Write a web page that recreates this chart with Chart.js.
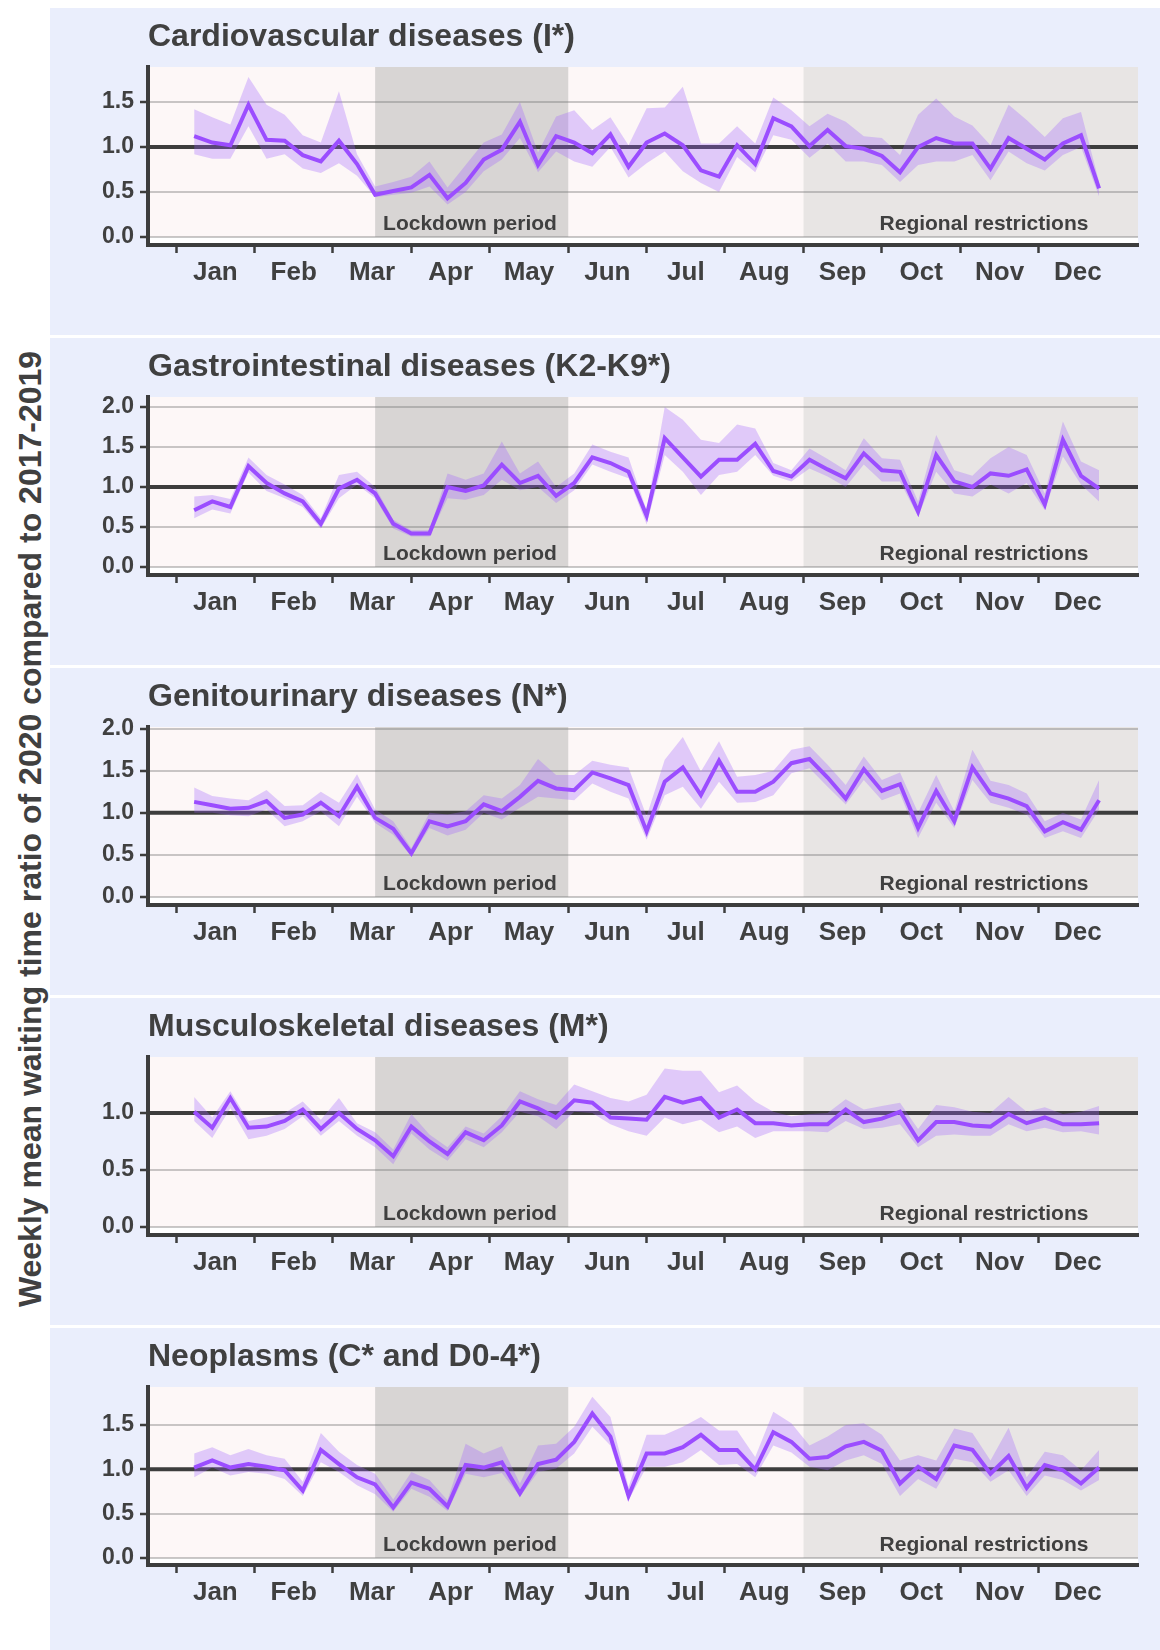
<!DOCTYPE html>
<html>
<head>
<meta charset="utf-8">
<script src="https://cdn.jsdelivr.net/npm/chart.js@4.4.1/dist/chart.umd.min.js"></script>
<style>
html,body{margin:0;padding:0;background:#ffffff;}
#wrap{position:relative;width:1160px;height:1650px;overflow:hidden;background:#ffffff;}
.panel{position:absolute;left:50px;width:1110px;height:327px;background:#EAEEFC;}
.panel canvas{display:block;}
#ytitle{position:absolute;left:30px;top:829px;transform:translate(-50%,-50%) rotate(-90deg);white-space:nowrap;
  font-family:"Liberation Sans",Arial,sans-serif;font-weight:bold;font-size:32px;color:#404040;}
</style>
</head>
<body>
<div id="wrap">
  <div id="ytitle">Weekly mean waiting time ratio of 2020 compared to 2017-2019</div>
</div>
<script>
// ---------- categories / axes ----------
const weeks = [1,2,3,4,5,6,7,8,9,10,11,12,13,14,15,16,17,18,19,20,21,22,23,24,25,26,27,28,29,30,31,32,33,34,35,36,37,38,39,40,41,42,43,44,45,46,47,48,49,50,51];
const monthNames = ["Jan","Feb","Mar","Apr","May","Jun","Jul","Aug","Sep","Oct","Nov","Dec"];
const monthStarts = [0,4.33,8.67,13,17.33,21.67,26,30.33,34.67,39,43.33,47.67];
const monthCenters = [2.17,6.5,10.83,15.17,19.5,23.83,28.17,32.5,36.83,41.17,45.5,49.83];
const xRange = [-1.55, 53.15];
const lockdownSpan = [11, 21.67];
const regionalStart = 34.67;
const lockdownLabelX = 16.24;
const regionalLabelX = 44.64;
const referenceValue = 1.0;

// ---------- panel titles / y ticks ----------
const panelTitles = ["Cardiovascular diseases (I*)","Gastrointestinal diseases (K2-K9*)","Genitourinary diseases (N*)","Musculoskeletal diseases (M*)","Neoplasms (C* and D0-4*)"];
const yTicksCardio = [0,0.5,1,1.5];
const yTicksGastro = [0,0.5,1,1.5,2];
const yTicksGenito = [0,0.5,1,1.5,2];
const yTicksMusculo = [0,0.5,1];
const yTicksNeo = [0,0.5,1,1.5];
const yRangeCardio = [-0.09,1.89];
const yRangeGastro = [-0.10,2.125];
const yRangeGenito = [-0.095,2.02];
const yRangeMusculo = [-0.07,1.49];
const yRangeNeo = [-0.08,1.93];

// ---------- series ----------
const cardioMean = [1.12,1.05,1.02,1.47,1.08,1.07,0.91,0.84,1.07,0.81,0.47,0.51,0.55,0.69,0.43,0.60,0.86,0.97,1.28,0.80,1.12,1.05,0.93,1.14,0.78,1.05,1.15,1.02,0.74,0.67,1.02,0.81,1.32,1.23,1.01,1.19,1.01,0.98,0.90,0.72,1.00,1.10,1.04,1.04,0.76,1.10,0.98,0.86,1.04,1.13,0.54];
const cardioHigh = [1.42,1.33,1.25,1.78,1.47,1.36,1.13,1.05,1.62,0.92,0.56,0.61,0.67,0.84,0.55,0.80,1.05,1.14,1.50,0.94,1.34,1.41,1.19,1.33,1.02,1.43,1.44,1.67,1.04,1.04,1.23,1.04,1.55,1.41,1.23,1.37,1.28,1.12,1.10,0.91,1.36,1.54,1.34,1.24,1.02,1.47,1.30,1.11,1.32,1.39,0.61];
const cardioLow = [0.92,0.87,0.87,1.23,0.87,0.92,0.76,0.71,0.82,0.68,0.44,0.47,0.49,0.56,0.36,0.50,0.73,0.86,1.10,0.72,0.95,0.84,0.78,1.00,0.66,0.82,0.95,0.73,0.60,0.50,0.89,0.72,1.13,1.08,0.88,1.04,0.84,0.84,0.80,0.61,0.80,0.84,0.84,0.91,0.63,0.95,0.82,0.74,0.91,1.00,0.45];

const gastroMean = [0.71,0.82,0.75,1.26,1.05,0.92,0.82,0.54,0.98,1.09,0.92,0.54,0.42,0.42,1.00,0.95,1.02,1.28,1.05,1.14,0.89,1.05,1.37,1.30,1.19,0.64,1.61,1.37,1.13,1.34,1.34,1.54,1.20,1.13,1.34,1.22,1.11,1.42,1.21,1.19,0.69,1.40,1.07,1.00,1.17,1.14,1.22,0.78,1.59,1.14,0.98];
const gastroHigh = [0.88,0.90,0.85,1.37,1.15,1.03,0.90,0.61,1.15,1.19,1.00,0.59,0.46,0.46,1.17,1.09,1.17,1.57,1.17,1.32,1.00,1.17,1.53,1.44,1.37,0.71,2.00,1.84,1.59,1.55,1.78,1.73,1.30,1.21,1.48,1.35,1.21,1.61,1.36,1.34,0.82,1.65,1.21,1.14,1.36,1.50,1.40,0.92,1.82,1.32,1.21];
const gastroLow = [0.61,0.72,0.67,1.18,0.95,0.86,0.75,0.48,0.86,1.03,0.86,0.48,0.38,0.38,0.86,0.84,0.90,1.09,0.96,1.00,0.80,0.96,1.28,1.19,1.11,0.53,1.40,1.19,0.90,1.15,1.19,1.40,1.14,1.07,1.23,1.13,1.00,1.28,1.07,1.07,0.63,1.19,0.92,0.88,1.03,0.92,1.05,0.71,1.38,1.03,0.82];

const genitoMean = [1.13,1.09,1.05,1.06,1.14,0.94,0.98,1.12,0.96,1.31,0.94,0.81,0.52,0.90,0.84,0.90,1.10,1.02,1.19,1.38,1.29,1.27,1.48,1.41,1.33,0.78,1.37,1.54,1.21,1.62,1.25,1.25,1.37,1.59,1.64,1.42,1.17,1.52,1.26,1.34,0.82,1.26,0.90,1.54,1.23,1.17,1.08,0.78,0.89,0.80,1.15];
const genitoHigh = [1.30,1.20,1.17,1.15,1.27,1.08,1.09,1.25,1.12,1.46,1.04,0.90,0.58,1.00,0.98,1.02,1.21,1.17,1.33,1.64,1.45,1.45,1.62,1.57,1.54,0.96,1.63,1.90,1.49,1.85,1.43,1.45,1.50,1.75,1.79,1.57,1.33,1.67,1.39,1.48,1.00,1.45,1.02,1.75,1.38,1.33,1.23,0.90,1.00,0.92,1.39];
const genitoLow = [1.00,1.00,0.97,0.96,1.04,0.84,0.90,1.02,0.84,1.19,0.88,0.74,0.48,0.82,0.73,0.80,1.00,0.92,1.06,1.19,1.17,1.15,1.35,1.25,1.17,0.68,1.21,1.31,1.05,1.37,1.12,1.13,1.21,1.47,1.53,1.31,1.10,1.39,1.15,1.23,0.70,1.12,0.82,1.39,1.12,1.06,0.98,0.70,0.78,0.70,1.04];

const musculoMean = [1.01,0.87,1.13,0.87,0.88,0.93,1.03,0.86,1.00,0.86,0.76,0.62,0.88,0.75,0.64,0.83,0.76,0.89,1.10,1.04,0.96,1.11,1.09,0.96,0.95,0.94,1.14,1.09,1.13,0.96,1.03,0.91,0.91,0.89,0.90,0.90,1.03,0.92,0.95,1.01,0.76,0.92,0.92,0.89,0.88,0.99,0.91,0.96,0.90,0.90,0.91];
const musculoHigh = [1.14,0.96,1.19,0.93,0.96,1.00,1.10,0.94,1.13,0.91,0.83,0.68,0.99,0.81,0.70,0.88,0.82,0.97,1.19,1.12,1.07,1.25,1.19,1.13,1.10,1.16,1.39,1.37,1.37,1.18,1.24,1.10,1.01,0.97,0.99,1.00,1.12,1.03,1.06,1.09,0.86,1.07,1.05,1.01,1.00,1.14,1.01,1.05,0.99,1.01,1.06];
const musculoLow = [0.93,0.78,1.04,0.77,0.80,0.86,0.97,0.80,0.93,0.80,0.70,0.55,0.82,0.68,0.58,0.77,0.70,0.83,1.01,0.97,0.86,1.01,1.00,0.90,0.84,0.80,0.96,0.90,0.94,0.83,0.88,0.78,0.84,0.84,0.84,0.83,0.93,0.86,0.87,0.90,0.70,0.80,0.81,0.80,0.80,0.90,0.84,0.87,0.83,0.84,0.81];

const neoMean = [1.02,1.10,1.02,1.06,1.03,0.99,0.76,1.22,1.06,0.91,0.83,0.57,0.85,0.78,0.58,1.05,1.02,1.08,0.73,1.06,1.11,1.31,1.63,1.37,0.70,1.18,1.18,1.25,1.39,1.22,1.22,1.00,1.42,1.31,1.12,1.14,1.26,1.31,1.21,0.84,1.03,0.89,1.27,1.22,0.95,1.15,0.79,1.05,0.99,0.84,1.02];
const neoHigh = [1.18,1.25,1.16,1.23,1.16,1.12,0.86,1.41,1.20,1.05,0.95,0.66,0.97,0.88,0.65,1.29,1.18,1.26,0.84,1.27,1.29,1.48,1.82,1.59,0.80,1.39,1.39,1.48,1.59,1.44,1.44,1.14,1.65,1.52,1.27,1.37,1.50,1.52,1.39,1.10,1.16,1.10,1.46,1.41,1.10,1.47,0.91,1.20,1.16,0.99,1.22];
const neoLow = [0.91,1.02,0.93,0.97,0.95,0.89,0.70,1.08,0.97,0.82,0.72,0.52,0.78,0.69,0.53,0.95,0.91,0.96,0.69,0.97,1.01,1.18,1.48,1.27,0.65,1.03,1.03,1.08,1.22,1.05,1.06,0.91,1.27,1.19,1.03,0.99,1.10,1.16,1.06,0.70,0.89,0.78,1.12,1.08,0.86,0.99,0.70,0.93,0.88,0.76,0.88];

// ---------- styling ----------
const FONT = '"Liberation Sans", Arial, Helvetica, sans-serif';
const TEXT = '#404040';
const COL = {
  pink:'#FDF7F7', lock:'#D8D5D4', reg:'#E8E5E4',
  line:'#9B4DFF', band:'rgba(160,95,255,0.30)', ref:'#3D3D3D',
  grid:'rgba(120,120,120,0.40)', axis:'#3D3D3D'
};

const panels = [
  {title:panelTitles[0], mean:cardioMean, low:cardioLow, high:cardioHigh, ticks:yTicksCardio, range:yRangeCardio},
  {title:panelTitles[1], mean:gastroMean, low:gastroLow, high:gastroHigh, ticks:yTicksGastro, range:yRangeGastro},
  {title:panelTitles[2], mean:genitoMean, low:genitoLow, high:genitoHigh, ticks:yTicksGenito, range:yRangeGenito},
  {title:panelTitles[3], mean:musculoMean, low:musculoLow, high:musculoHigh, ticks:yTicksMusculo, range:yRangeMusculo},
  {title:panelTitles[4], mean:neoMean, low:neoLow, high:neoHigh, ticks:yTicksNeo, range:yRangeNeo}
];

const decor = {
  id:'decor',
  beforeDraw(chart){
    const {ctx, chartArea:a, scales:{x,y}} = chart;
    ctx.save();
    ctx.fillStyle = '#FFFFFF';
    ctx.fillRect(a.left, a.top, a.right-a.left, a.bottom-a.top);
    const y0 = y.getPixelForValue(0);
    ctx.fillStyle = COL.pink;
    ctx.fillRect(a.left, a.top, a.right-a.left, y0-a.top);
    const l0 = x.getPixelForValue(lockdownSpan[0]), l1 = x.getPixelForValue(lockdownSpan[1]);
    ctx.fillStyle = COL.lock;
    ctx.fillRect(l0, a.top, l1-l0, y0-a.top);
    const r0 = x.getPixelForValue(regionalStart);
    ctx.fillStyle = COL.reg;
    ctx.fillRect(r0, a.top, a.right-r0, y0-a.top);
    ctx.restore();
  },
  beforeDatasetsDraw(chart){
    const {ctx, chartArea:a, scales:{x,y}} = chart;
    ctx.save();
    const y0 = y.getPixelForValue(0);
    ctx.font = 'bold 21px ' + FONT;
    ctx.fillStyle = TEXT;
    ctx.textAlign = 'center';
    ctx.textBaseline = 'middle';
    ctx.fillText('Lockdown period', x.getPixelForValue(lockdownLabelX), y0-13);
    ctx.fillText('Regional restrictions', x.getPixelForValue(regionalLabelX), y0-13);
    const yr = y.getPixelForValue(referenceValue);
    ctx.strokeStyle = COL.ref;
    ctx.lineWidth = 4;
    ctx.beginPath();
    ctx.moveTo(a.left, yr);
    ctx.lineTo(a.right, yr);
    ctx.stroke();
    ctx.restore();
  },
  afterDraw(chart, args, opts){
    const {ctx, chartArea:a} = chart;
    ctx.save();
    ctx.font = 'bold 32px ' + FONT;
    ctx.fillStyle = TEXT;
    ctx.textAlign = 'left';
    ctx.textBaseline = 'alphabetic';
    ctx.fillText(opts.title, a.left, 38);
    ctx.restore();
  }
};

const wrap = document.getElementById('wrap');
panels.forEach((p, i) => {
  const div = document.createElement('div');
  div.className = 'panel';
  div.style.top = (8 + 330*i) + 'px';
  const cv = document.createElement('canvas');
  cv.width = 1110; cv.height = 327;
  cv.style.width = '1110px'; cv.style.height = '327px';
  div.appendChild(cv);
  wrap.appendChild(div);
  const pts = arr => weeks.map((w, k) => ({x:w, y:arr[k]}));
  new Chart(cv.getContext('2d'), {
    type:'line',
    data:{
      datasets:[
        {label:'mean', data:pts(p.mean), borderColor:COL.line, borderWidth:4, pointRadius:0, tension:0, fill:false, borderJoinStyle:'miter'},
        {label:'upper', data:pts(p.high), borderWidth:0, borderColor:'rgba(0,0,0,0)', pointRadius:0, tension:0, fill:'+1', backgroundColor:COL.band},
        {label:'lower', data:pts(p.low), borderWidth:0, borderColor:'rgba(0,0,0,0)', pointRadius:0, tension:0, fill:false}
      ]
    },
    options:{
      responsive:false,
      animation:false,
      events:[],
      layout:{padding:{top:59, right:22, bottom:0, left:0}},
      plugins:{legend:{display:false}, tooltip:{enabled:false}, title:{display:false}, decor:{title:p.title}},
      scales:{
        x:{
          type:'linear', position:'bottom', min:xRange[0], max:xRange[1],
          afterBuildTicks: sc => { sc.ticks = monthStarts.concat(monthCenters).sort((a,b)=>a-b).map(v=>({value:v})); },
          afterFit: sc => { sc.height = 90; },
          grid:{drawOnChartArea:false, drawTicks:true, tickLength:8, tickWidth:2.5,
                tickColor: c => (c.tick && monthStarts.includes(c.tick.value)) ? COL.axis : 'rgba(0,0,0,0)',
                color:'rgba(0,0,0,0)'},
          border:{display:true, color:COL.axis, width:4},
          ticks:{autoSkip:false, maxRotation:0, minRotation:0, padding:4, color:TEXT,
                 font:{family:FONT, size:26, weight:'bold'},
                 callback: v => { const k = monthCenters.indexOf(v); return k >= 0 ? monthNames[k] : ''; }}
        },
        y:{
          type:'linear', position:'left', min:p.range[0], max:p.range[1],
          afterBuildTicks: sc => { sc.ticks = p.ticks.map(v=>({value:v})); },
          afterFit: sc => { sc.width = 98; },
          grid:{color:COL.grid, lineWidth:2, drawTicks:true, tickLength:8, tickWidth:2.5, tickColor:COL.axis},
          border:{display:true, color:COL.axis, width:4},
          ticks:{padding:6, color:TEXT, font:{family:FONT, size:23, weight:'bold'},
                 callback: v => Number(v).toFixed(1)}
        }
      }
    },
    plugins:[decor]
  });
});
</script>
</body>
</html>
